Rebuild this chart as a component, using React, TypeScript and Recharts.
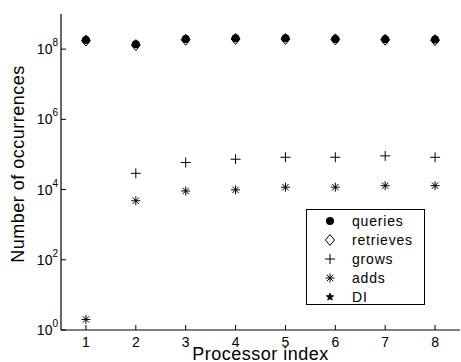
import { ScatterChart, Scatter, XAxis, YAxis, Legend } from 'recharts';

const processors = [1, 2, 3, 4, 5, 6, 7, 8];
const queries = [1.83e8, 1.38e8, 1.95e8, 2.04e8, 2.04e8, 1.95e8, 1.9e8, 1.87e8];
const retrieves = [1.75e8, 1.3e8, 1.85e8, 1.95e8, 1.95e8, 1.9e8, 1.85e8, 1.8e8];
const grows = [null, 2.9e4, 5.9e4, 7.3e4, 8.3e4, 8.3e4, 9.1e4, 8.3e4];
const adds = [2, 4.8e3, 9.1e3, 9.8e3, 1.17e4, 1.17e4, 1.29e4, 1.29e4];
const dis: (number | null)[] = [null, null, null, null, null, null, null, null];

const xTicks = [1, 2, 3, 4, 5, 6, 7, 8];
const yTicks = [1, 1e2, 1e4, 1e6, 1e8];

const FONT = '"Liberation Sans", Arial, Helvetica, sans-serif';

type Kind = 'circle' | 'diamond' | 'plus' | 'asterisk' | 'star';

const series: { name: string; kind: Kind; values: (number | null)[] }[] = [
  { name: 'queries', kind: 'circle', values: queries },
  { name: 'retrieves', kind: 'diamond', values: retrieves },
  { name: 'grows', kind: 'plus', values: grows },
  { name: 'adds', kind: 'asterisk', values: adds },
  { name: 'DI', kind: 'star', values: dis },
];

const toPoints = (vals: (number | null)[]) =>
  processors
    .map((x, i) => ({ x, y: vals[i] }))
    .filter((p) => p.y != null);

function Marker({ kind, cx, cy }: { kind: Kind; cx: number; cy: number }) {
  const s = { stroke: '#000', strokeWidth: 1, fill: 'none' };
  if (kind === 'circle') return <circle cx={cx} cy={cy} r={4} fill="#000" />;
  if (kind === 'diamond')
    return <path d={`M${cx},${cy - 5.5}L${cx + 4.5},${cy}L${cx},${cy + 5.5}L${cx - 4.5},${cy}Z`} {...s} />;
  if (kind === 'plus')
    return (
      <g {...s}>
        <line x1={cx - 5} y1={cy} x2={cx + 5} y2={cy} />
        <line x1={cx} y1={cy - 5} x2={cx} y2={cy + 5} />
      </g>
    );
  if (kind === 'asterisk')
    return (
      <g {...s}>
        <line x1={cx - 4.5} y1={cy} x2={cx + 4.5} y2={cy} />
        <line x1={cx} y1={cy - 4.5} x2={cx} y2={cy + 4.5} />
        <line x1={cx - 3.2} y1={cy - 3.2} x2={cx + 3.2} y2={cy + 3.2} />
        <line x1={cx - 3.2} y1={cy + 3.2} x2={cx + 3.2} y2={cy - 3.2} />
      </g>
    );
  // pentagram
  const pts: string[] = [];
  for (let i = 0; i < 10; i++) {
    const r = i % 2 === 0 ? 3.8 : 1.6;
    const a = -Math.PI / 2 + (i * Math.PI) / 5;
    pts.push(`${cx + r * Math.cos(a)},${cy + r * Math.sin(a)}`);
  }
  return <polygon points={pts.join(' ')} stroke="#000" strokeWidth={1} fill="#000" />;
}

const BottomTick = ({ x, y, payload }: any) => (
  <g>
    <line x1={x} y1={y} x2={x} y2={y - 5} stroke="#000" />
    <text x={x} y={y + 16.5} textAnchor="middle" fontSize={14} fill="#000">
      {payload.value}
    </text>
  </g>
);

const TopTick = ({ x, y }: any) => <line x1={x} y1={y} x2={x} y2={y + 5} stroke="#000" />;

const LeftTick = ({ x, y, payload }: any) => (
  <g>
    <line x1={x} y1={y} x2={x + 5} y2={y} stroke="#000" />
    <text x={x - 3} y={y + 5} textAnchor="end" fontSize={14} fill="#000">
      <tspan>10</tspan>
      <tspan dy={-8} fontSize={10}>
        {Math.round(Math.log10(payload.value))}
      </tspan>
    </text>
  </g>
);

const RightTick = ({ x, y }: any) => <line x1={x} y1={y} x2={x - 5} y2={y} stroke="#000" />;

const LegendBox = () => (
  <div
    style={{
      width: 117,
      height: 94,
      border: '1px solid #000',
      background: '#fff',
      position: 'relative',
      fontFamily: FONT,
    }}
  >
    <svg width={117} height={94} style={{ position: 'absolute', left: 0, top: 0 }}>
      {series.map((s, i) => (
        <g key={s.name}>
          <Marker kind={s.kind} cx={23} cy={11 + i * 19} />
          <text x={45} y={11 + i * 19 + 5} fontSize={14} letterSpacing={0.8} fill="#000">
            {s.name}
          </text>
        </g>
      ))}
    </svg>
  </div>
);

export default function App() {
  return (
    <div style={{ position: 'absolute', left: 0, top: 0, width: 461, height: 362, background: '#fff', fontFamily: FONT }}>
      <ScatterChart width={461} height={362} margin={{ top: 14, right: 1, bottom: 0, left: 0 }} style={{ fontFamily: FONT }}>
        <XAxis
          xAxisId="bottom"
          dataKey="x"
          type="number"
          domain={[0.5, 8.5]}
          ticks={xTicks}
          interval={0}
          allowDataOverflow
          height={32}
          tickSize={0}
          tickMargin={0}
          tickLine={false}
          tick={BottomTick}
          axisLine={{ stroke: '#000', strokeWidth: 1.2 }}
          label={{ value: 'Processor index', position: 'insideBottom', offset: 2, fontSize: 18, fill: '#000', letterSpacing: 0.5 }}
        />
        <XAxis
          xAxisId="top"
          orientation="top"
          type="number"
          domain={[0.5, 8.5]}
          ticks={xTicks}
          interval={0}
          allowDataOverflow
          height={0}
          tickSize={0}
          tickMargin={0}
          tickLine={false}
          tick={TopTick}
          axisLine={{ stroke: '#000', strokeWidth: 1.2 }}
        />
        <YAxis
          yAxisId="left"
          dataKey="y"
          type="number"
          scale="log"
          domain={[1, 1e9]}
          ticks={yTicks}
          interval={0}
          allowDataOverflow
          width={61}
          tickSize={0}
          tickMargin={0}
          tickLine={false}
          tick={LeftTick}
          axisLine={{ stroke: '#000', strokeWidth: 1.2 }}
          label={{ value: 'Number of occurrences', angle: -90, position: 'center', dx: -13, dy: -8, fontSize: 18, fill: '#000', letterSpacing: 0.5 }}
        />
        <YAxis
          yAxisId="right"
          orientation="right"
          type="number"
          scale="log"
          domain={[1, 1e9]}
          ticks={yTicks}
          interval={0}
          allowDataOverflow
          width={0}
          tickSize={0}
          tickMargin={0}
          tickLine={false}
          tick={RightTick}
          axisLine={{ stroke: '#000', strokeWidth: 1.2 }}
        />
        {series.map((s) => (
          <Scatter
            key={s.name}
            name={s.name}
            xAxisId="bottom"
            yAxisId="left"
            data={toPoints(s.values)}
            isAnimationActive={false}
            shape={(p: any) => <Marker kind={s.kind} cx={p.cx} cy={p.cy} />}
          />
        ))}
        <Legend
          layout="vertical"
          align="center"
          verticalAlign="middle"
          wrapperStyle={{ left: 306, top: 209, width: 119, height: 96 }}
          content={() => <LegendBox />}
        />
      </ScatterChart>
    </div>
  );
}
